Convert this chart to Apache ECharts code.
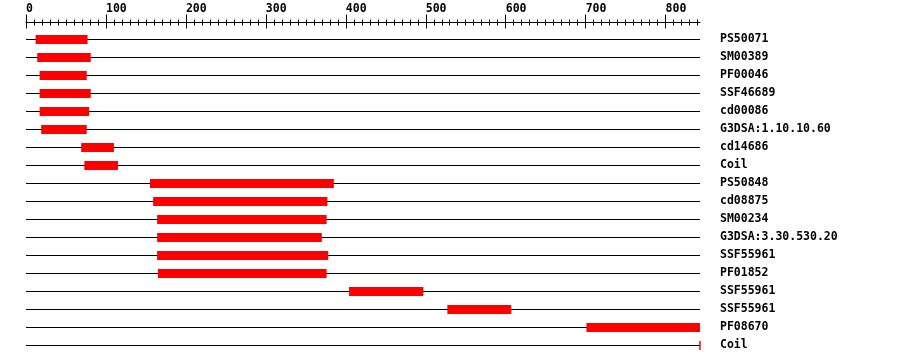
<!DOCTYPE html>
<html>
<head>
<meta charset="utf-8">
<script src="https://cdn.jsdelivr.net/npm/echarts@6/dist/echarts.min.js"></script>
<style>
html,body{margin:0;padding:0;background:#fff;}
#chart{width:900px;height:364px;}
</style>
</head>
<body>
<div id="chart"></div>
<script>
const rowLabels = ['PS50071','SM00389','PF00046','SSF46689','cd00086','G3DSA:1.10.10.60','cd14686','Coil','PS50848','cd08875','SM00234','G3DSA:3.30.530.20','SSF55961','PF01852','SSF55961','SSF55961','PF08670','Coil'];
const domainStart = [12,14,17,17,17,19,69,73,155,159,164,164,164,165,404,527,701,842];
const domainEnd   = [77,81,76,81,79,76,110,115,385,377,376,370,378,376,497,607,843,843];
const majorTicks = [0,100,200,300,400,500,600,700,800];
const minorTicks = [10,20,30,40,50,60,70,80,90,110,120,130,140,150,160,170,180,190,210,220,230,240,250,260,270,280,290,310,320,330,340,350,360,370,380,390,410,420,430,440,450,460,470,480,490,510,520,530,540,550,560,570,580,590,610,620,630,640,650,660,670,680,690,710,720,730,740,750,760,770,780,790,810,820,830,840];
const seqLength = 843;

const FONT = 'DejaVu Sans Mono';
const chart = echarts.init(document.getElementById('chart'), null, {renderer:'canvas'});

function xAx(opts){
  return Object.assign({
    type:'value', position:'top', offset:17, min:0, max:seqLength,
    axisLine:{show:false}, splitLine:{show:false},
    axisLabel:{show:false}, axisTick:{show:false}
  }, opts);
}

const rows = rowLabels.map((n,i)=>[i, domainStart[i], domainEnd[i]]);

chart.setOption({
  animation:false,
  backgroundColor:'#ffffff',
  grid:{left:26, width:674, top:39.5, height:306},
  xAxis:[
    xAx({
      axisLine:{show:true, lineStyle:{color:'#000', width:1}},
      axisTick:{show:true, customValues:majorTicks, length:8, inside:false, lineStyle:{color:'#000', width:1}},
      axisLabel:{show:true, customValues:majorTicks, align:'left', margin:7, color:'#000',
        fontFamily:FONT, fontWeight:'bold', fontSize:11.5}
    }),
    xAx({axisTick:{show:true, customValues:majorTicks, length:6, inside:true, lineStyle:{color:'#000', width:1}}}),
    xAx({axisTick:{show:true, customValues:minorTicks, length:3, inside:false, lineStyle:{color:'#000', width:1}}}),
    xAx({axisTick:{show:true, customValues:minorTicks, length:3, inside:true, lineStyle:{color:'#000', width:1}}})
  ],
  yAxis:{
    type:'category', inverse:true, boundaryGap:false, position:'right',
    data:rowLabels.map((n,i)=>String(i)),
    axisLine:{show:false}, axisTick:{show:false},
    splitLine:{show:true, interval:0, lineStyle:{color:'#000', width:1}},
    axisLabel:{show:true, interval:0, align:'left', margin:20, color:'#000',
      fontFamily:FONT, fontWeight:'bold', fontSize:11.5, padding:[2,0,0,0],
      formatter:(v,i)=>rowLabels[i]}
  },
  series:[{
    type:'custom',
    xAxisIndex:0,
    data:rows,
    encode:{x:[1,2], y:0},
    renderItem:function(params, api){
      const r = api.value(0);
      const s = api.coord([api.value(1), r]);
      const e = api.coord([api.value(2), r]);
      const h = 9;
      return {type:'rect', shape:{x:s[0], y:s[1]-h/2, width:Math.max(e[0]-s[0], 1.5), height:h},
        style:{fill:'#ff0000'}};
    }
  }]
});
</script>
</body>
</html>
